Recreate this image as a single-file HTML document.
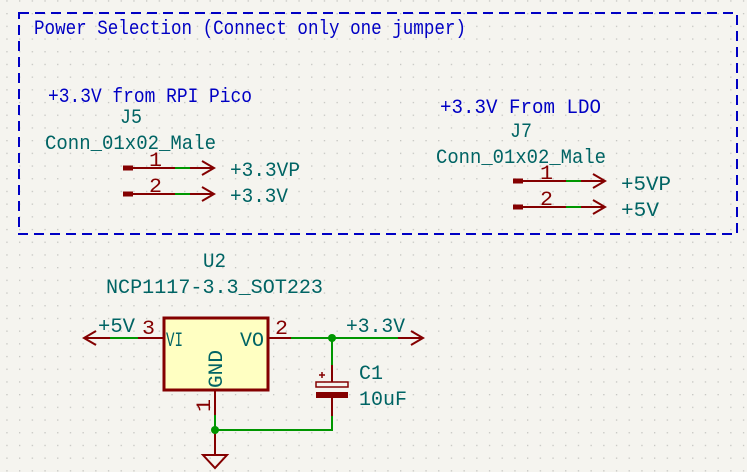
<!DOCTYPE html>
<html><head><meta charset="utf-8"><style>
html,body{margin:0;padding:0;background:#f5f4ef;}
svg{display:block;}
text{font-family:"Liberation Mono",monospace;}
.t{fill:#006464;font-size:20px;}
.b{fill:#0000c4;font-size:20px;}
.r{fill:#840000;font-size:20px;}
</style></head><body>
<svg width="747" height="472" viewBox="0 0 747 472" xmlns="http://www.w3.org/2000/svg">
<defs><pattern id="g" x="6.3" y="0.3" width="12.7" height="12.7" patternUnits="userSpaceOnUse"><rect x="0" y="0" width="1.3" height="1.3" fill="#c4c4c0"/></pattern></defs>
<rect width="747" height="472" fill="#f5f4ef"/>
<rect width="747" height="472" fill="url(#g)"/>
<rect x="19" y="13" width="718" height="221" fill="none" stroke="#0000c4" stroke-width="2" stroke-dasharray="10,6"/>
<text class="b" x="34" y="34" textLength="432" lengthAdjust="spacingAndGlyphs">Power Selection (Connect only one jumper)</text>

<text class="b" x="48" y="102" textLength="204" lengthAdjust="spacingAndGlyphs">+3.3V from RPI Pico</text>
<text class="t" x="120" y="123" textLength="22" lengthAdjust="spacingAndGlyphs">J5</text>
<text class="t" x="45" y="149" textLength="171" lengthAdjust="spacingAndGlyphs">Conn_01x02_Male</text>
<g stroke="#840000" stroke-width="2" fill="none">
<line x1="123" y1="168" x2="214" y2="168"/><line x1="123" y1="194" x2="214" y2="194"/>
<polyline points="202,161 214,168 202,175"/><polyline points="202,187 214,194 202,201"/>
<line x1="513" y1="181" x2="605" y2="181"/><line x1="513" y1="207" x2="605" y2="207"/>
<polyline points="593,174 605,181 593,188"/><polyline points="593,200 605,207 593,214"/>
</g>
<g fill="#840000"><rect x="123" y="165.5" width="10" height="5"/><rect x="123" y="191.5" width="10" height="5"/>
<rect x="513" y="178.5" width="10" height="5"/><rect x="513" y="204.5" width="10" height="5"/></g>
<g stroke="#009600" stroke-width="2"><line x1="175" y1="168" x2="190" y2="168"/><line x1="175" y1="194" x2="190" y2="194"/>
<line x1="566" y1="181" x2="581" y2="181"/><line x1="566" y1="207" x2="581" y2="207"/></g>
<text class="r" x="149" y="166" textLength="13" lengthAdjust="spacingAndGlyphs">1</text><text class="r" x="149" y="192" textLength="13" lengthAdjust="spacingAndGlyphs">2</text>
<text class="r" x="540" y="179" textLength="13" lengthAdjust="spacingAndGlyphs">1</text><text class="r" x="540" y="205" textLength="13" lengthAdjust="spacingAndGlyphs">2</text>
<text class="t" x="230" y="176" textLength="70" lengthAdjust="spacingAndGlyphs">+3.3VP</text>
<text class="t" x="230" y="202" textLength="58" lengthAdjust="spacingAndGlyphs">+3.3V</text>

<text class="b" x="440" y="113" textLength="161" lengthAdjust="spacingAndGlyphs">+3.3V From LDO</text>
<text class="t" x="510" y="137" textLength="22" lengthAdjust="spacingAndGlyphs">J7</text>
<text class="t" x="436" y="163" textLength="170" lengthAdjust="spacingAndGlyphs">Conn_01x02_Male</text>
<text class="t" x="621" y="190" textLength="50" lengthAdjust="spacingAndGlyphs">+5VP</text>
<text class="t" x="621" y="216" textLength="38" lengthAdjust="spacingAndGlyphs">+5V</text>

<text class="t" x="203" y="267" textLength="23" lengthAdjust="spacingAndGlyphs">U2</text>
<text class="t" x="106" y="293" textLength="217" lengthAdjust="spacingAndGlyphs">NCP1117-3.3_SOT223</text>
<rect x="164" y="318" width="104" height="72" fill="#ffffc2" stroke="#840000" stroke-width="3"/>
<text class="t" x="166" y="346" textLength="17" lengthAdjust="spacingAndGlyphs">VI</text>
<text class="t" x="240" y="346" textLength="24" lengthAdjust="spacingAndGlyphs">VO</text>
<text class="t" transform="translate(222,388) rotate(-90)" x="0" y="0" textLength="38" lengthAdjust="spacingAndGlyphs">GND</text>
<g stroke="#840000" stroke-width="2" fill="none">
<line x1="84" y1="338" x2="110" y2="338"/><polyline points="96,331 84,338 96,345"/>
<line x1="138" y1="338" x2="163" y2="338"/>
<line x1="268" y1="338" x2="291" y2="338"/>
<line x1="398" y1="338" x2="423" y2="338"/><polyline points="411,331 423,338 411,345"/>
<line x1="215" y1="390" x2="215" y2="415"/>
<line x1="215" y1="430" x2="215" y2="455"/>
<polygon points="203,455 227,455 215,468"/>
<line x1="332" y1="365" x2="332" y2="382"/>
<line x1="332" y1="398" x2="332" y2="416"/>
<rect x="316" y="382" width="32" height="5" stroke-width="1.5"/>
<line x1="319" y1="375" x2="325" y2="375" stroke-width="1.5"/><line x1="322" y1="372" x2="322" y2="378" stroke-width="1.5"/>
</g>
<rect x="316" y="392" width="32" height="6" fill="#840000"/>
<g stroke="#009600" stroke-width="2" fill="none">
<line x1="110" y1="338" x2="138" y2="338"/>
<line x1="291" y1="338" x2="398" y2="338"/>
<line x1="332" y1="338" x2="332" y2="365"/>
<polyline points="215,415 215,430 332,430 332,416"/>
</g>
<circle cx="332" cy="338" r="4" fill="#009600"/>
<circle cx="215" cy="430" r="4" fill="#009600"/>
<text class="t" x="98" y="332" textLength="37" lengthAdjust="spacingAndGlyphs">+5V</text>
<text class="r" x="142" y="334" textLength="13" lengthAdjust="spacingAndGlyphs">3</text>
<text class="r" x="275" y="334" textLength="13" lengthAdjust="spacingAndGlyphs">2</text>
<text class="r" transform="translate(210,412) rotate(-90)" x="0" y="0" textLength="13" lengthAdjust="spacingAndGlyphs">1</text>
<text class="t" x="346" y="332" textLength="59" lengthAdjust="spacingAndGlyphs">+3.3V</text>
<text class="t" x="359" y="379" textLength="24" lengthAdjust="spacingAndGlyphs">C1</text>
<text class="t" x="359" y="405" textLength="48" lengthAdjust="spacingAndGlyphs">10uF</text>
</svg>
</body></html>
